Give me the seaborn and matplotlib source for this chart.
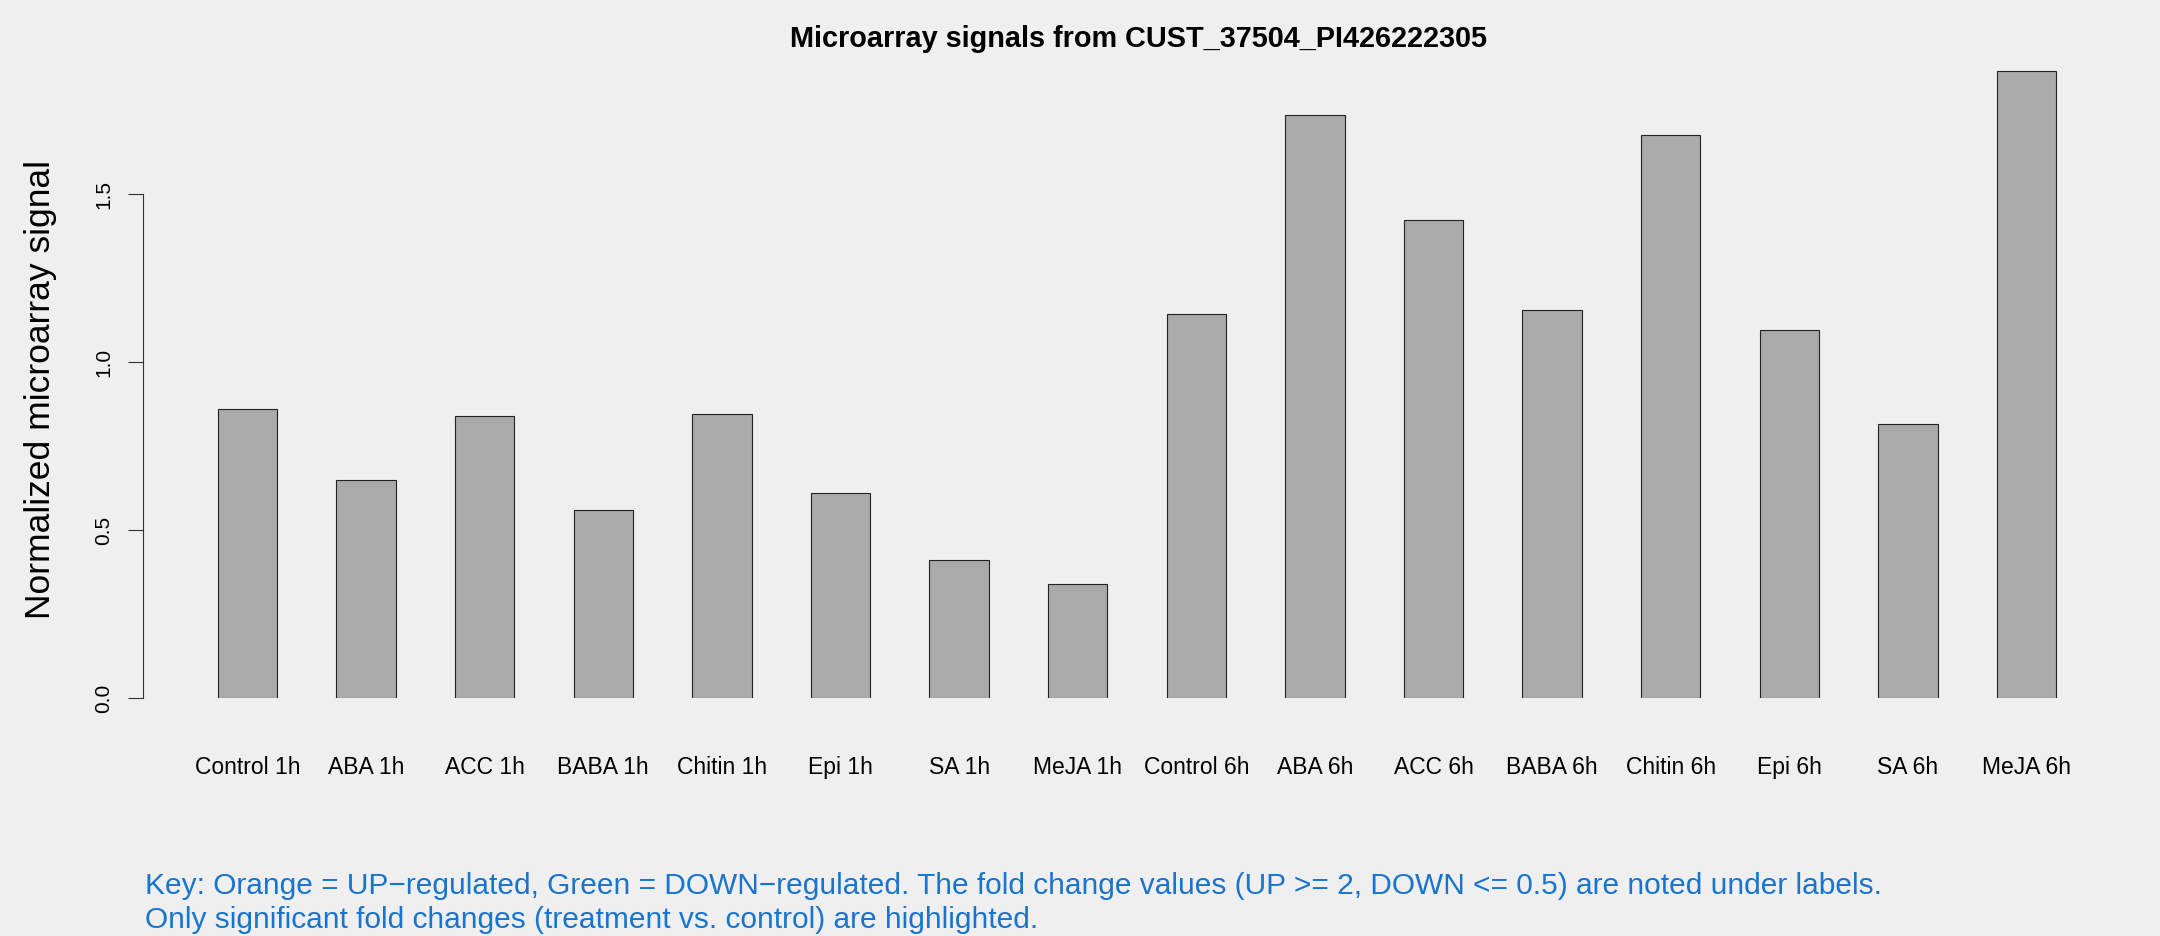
import pandas as pd
import seaborn as sns
import matplotlib.pyplot as plt

# Подписи столбцов и значения сигнала
labels = ['Control 1h', 'ABA 1h', 'ACC 1h', 'BABA 1h', 'Chitin 1h', 'Epi 1h', 'SA 1h', 'MeJA 1h',
          'Control 6h', 'ABA 6h', 'ACC 6h', 'BABA 6h', 'Chitin 6h', 'Epi 6h', 'SA 6h', 'MeJA 6h']
signal = [0.861, 0.648, 0.840, 0.561, 0.844, 0.611, 0.410, 0.340,
          1.143, 1.734, 1.422, 1.156, 1.676, 1.094, 0.816, 1.865]
y_ticks = [0.0, 0.5, 1.0, 1.5]

title = 'Microarray signals from CUST_37504_PI426222305'
key_lines = ['Key: Orange = UP\u2212regulated, Green = DOWN\u2212regulated. '
             'The fold change values (UP >= 2, DOWN <= 0.5) are noted under labels.',
             'Only significant fold changes (treatment vs. control) are highlighted.']

df = pd.DataFrame({'label': labels, 'signal': signal})

sns.set_style('white')
plt.rcParams['font.family'] = ['Liberation Sans', 'DejaVu Sans']
plt.rcParams['text.color'] = 'black'
plt.rcParams['xtick.color'] = 'black'
plt.rcParams['ytick.color'] = 'black'
bg = '#EFEFEF'

W, H = 2160, 936
fig = plt.figure(figsize=(W / 100, H / 100), dpi=100, facecolor=bg)

# оси: левая линия на x=143px, ноль на y=698px
left_px, right_px = 143, 2100
zero_px, unit_px = 698, 336.0
ymax = 1.9
ax = fig.add_axes([left_px / W, (H - zero_px) / H, (right_px - left_px) / W, ymax * unit_px / H])
ax.set_facecolor(bg)

sns.barplot(data=df, x='label', y='signal', color='#AAAAAA', saturation=1, width=0.5,
            edgecolor='#222222', linewidth=0.8, ax=ax)

first_c, step = 247.5, 118.6
ax.set_xlim((left_px - first_c) / step, (right_px - first_c) / step)
ax.set_ylim(0, ymax)

for s in ['top', 'right', 'bottom']:
    ax.spines[s].set_visible(False)
ax.spines['left'].set_bounds(0, 1.5)
ax.spines['left'].set_color('#333333')
ax.spines['left'].set_linewidth(0.8)

ax.set_yticks(y_ticks)
ax.set_yticklabels([f'{v:.1f}' for v in y_ticks], rotation=90, va='center', fontsize=15)
ax.tick_params(axis='y', length=10.5, width=0.8, color='#333333', labelcolor='black', pad=11, left=True)
ax.tick_params(axis='x', length=0, pad=42, labelsize=16.5, labelcolor='black')
ax.set_xlabel('')
ax.set_ylabel('')

fig.text(1138 / W, 1 - 38.6 / H, title, ha='center', va='center', fontsize=20.8,
         fontweight='bold', color='black')
fig.text(41 / W, 1 - 389 / H, 'Normalized microarray signal', rotation=90,
         ha='center', va='center', fontsize=25.5, color='black')
for i, line in enumerate(key_lines):
    fig.text(145 / W, 1 - (886 + 34 * i) / H, line, ha='left', va='center',
             fontsize=21.5, color='#1874CD')

fig.savefig('out.png', dpi=100, facecolor=bg)
